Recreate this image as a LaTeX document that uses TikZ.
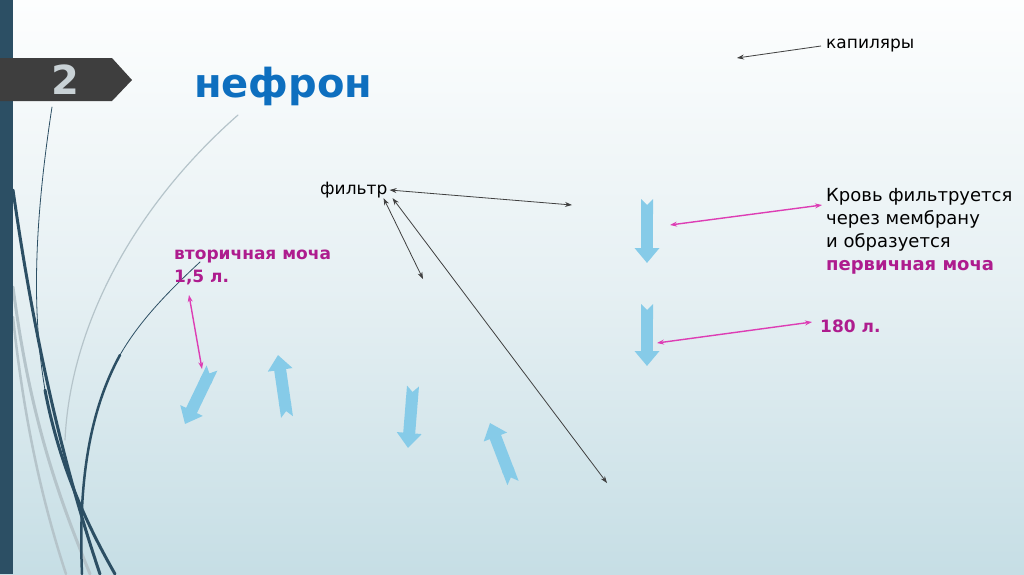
\documentclass[tikz,border=0pt]{standalone}
\usepackage{fontspec}
\setmainfont{DejaVu Sans}
\usetikzlibrary{arrows.meta}

\definecolor{bgtop}{HTML}{FDFEFE}
\definecolor{bgmid}{HTML}{E6F0F3}
\definecolor{bgbot}{HTML}{C6DEE5}
\definecolor{barteal}{HTML}{2C4F64}
\definecolor{banner}{HTML}{3E3E3E}
\definecolor{numgray}{HTML}{C9D2D6}
\definecolor{titleblue}{HTML}{0E6FBF}
\definecolor{mag}{HTML}{AE1C8E}
\definecolor{pinkline}{HTML}{DD3DB4}
\definecolor{skyarrow}{HTML}{86CBE8}
\definecolor{swoosh}{HTML}{B5C4CA}

\begin{document}
\begin{tikzpicture}[x=1pt,y=-1pt]

\tikzset{
  txt/.style   = {inner sep=0pt, anchor=west, font=\fontsize{17}{22}\selectfont},
  hot/.style   = {txt, text=mag, font=\fontsize{17}{23}\selectfont\bfseries},
  link/.style  = {{Stealth[length=7pt,width=5pt]}-{Stealth[length=7pt,width=5pt]},
                  line width=0.8pt, draw=black!75},
  pink/.style  = {link, draw=pinkline, line width=1.4pt},
  flowarr/.style = {draw=skyarrow, line width=12pt,
                  {Triangle Cap[reversed]}-{Triangle[length=15pt,width=24pt]}},
  dark/.style  = {draw=barteal, line cap=round},
  pale/.style  = {draw=swoosh, line cap=round},
}

\useasboundingbox (0,0) rectangle (1024,574);
\shade[top color=bgtop, bottom color=bgbot, middle color=bgmid] (0,0) rectangle (1024,574);

% swooshes on the left
\draw[pale, line width=3pt] (13,287) .. controls (30,420) and (60,500) .. (90,574);
\draw[pale, line width=2.5pt] (13,317) .. controls (25,430) and (45,510) .. (66,574);
\draw[pale, line width=1.2pt] (238,115) .. controls (130,210) and (70,330) .. (65,440);
\draw[dark, line width=3pt] (13,190) .. controls (40,380) and (75,500) .. (100,574);
\draw[dark, line width=0.8pt] (52,107) .. controls (30,250) and (35,330) .. (45,390);
\draw[dark, line width=3pt] (45,390) .. controls (60,470) and (90,530) .. (115,574);
\draw[dark, line width=0.8pt] (200,262) .. controls (170,290) and (140,320) .. (120,355);
\draw[dark, line width=2.5pt] (120,355) .. controls (90,410) and (78,480) .. (82,574);
\fill[barteal] (0,0) rectangle (13,574);

% title banner
\fill[banner] (0,58) -- (112,58) -- (132,80) -- (112,101) -- (0,101) -- cycle;
\node[inner sep=0pt, text=numgray, font=\fontsize{40}{40}\selectfont\bfseries] (num) at (65,80) {2};
\node[inner sep=0pt, anchor=west, text=titleblue, font=\fontsize{40}{40}\selectfont\bfseries] (title) at (194,86) {нефрон};

% labels
\node[txt] (kap) at (826,46) {капиляры};
\node[txt] (filt) at (320,190) {фильтр};
\node[txt, anchor=north west, align=left, font=\fontsize{18}{23}\selectfont] (krov) at (826,188)
  {Кровь фильтруется\\через мембрану\\и образуется\\{\color{mag}\bfseries первичная моча}};
\node[hot] (l180) at (820,326) {180 л.};
\node[hot, anchor=north west, align=left] (vtor) at (174,250) {вторичная моча\\1,5 л.};

\coordinate (kapend) at (737,58);
\coordinate (fa) at (572,205);
\coordinate (fb) at (607,483);
\coordinate (fc) at (423,279);
\coordinate (pa1) at (670,225);
\coordinate (pa2) at (822,205);
\coordinate (pb1) at (657,343);
\coordinate (pb2) at (812,322);
\coordinate (pc1) at (189,295);
\coordinate (pc2) at (202,369);

% connectors
\draw[link, {Stealth[length=7pt,width=5pt]}-] (kapend) -- ([xshift=-5pt]kap.west);
\draw[link] ([xshift=2pt]filt.east) -- (fa);
\draw[link] ([xshift=5pt]filt.south east) -- (fb);
\draw[link] ([xshift=-4pt]filt.south east) -- (fc);
\draw[pink] (pa1) -- (pa2);
\draw[pink] (pb1) -- (pb2);
\draw[pink] (pc1) -- (pc2);

% flow arrows
\draw[flowarr] (647,199) -- (647,263);
\draw[flowarr] (647,304) -- (647,366);
\draw[flowarr] (212,368) -- (185,424);
\draw[flowarr] (287,417) -- (278,355);
\draw[flowarr] (413,386) -- (408,448);
\draw[flowarr] (513,483) -- (490,423);
\end{tikzpicture}
\end{document}
